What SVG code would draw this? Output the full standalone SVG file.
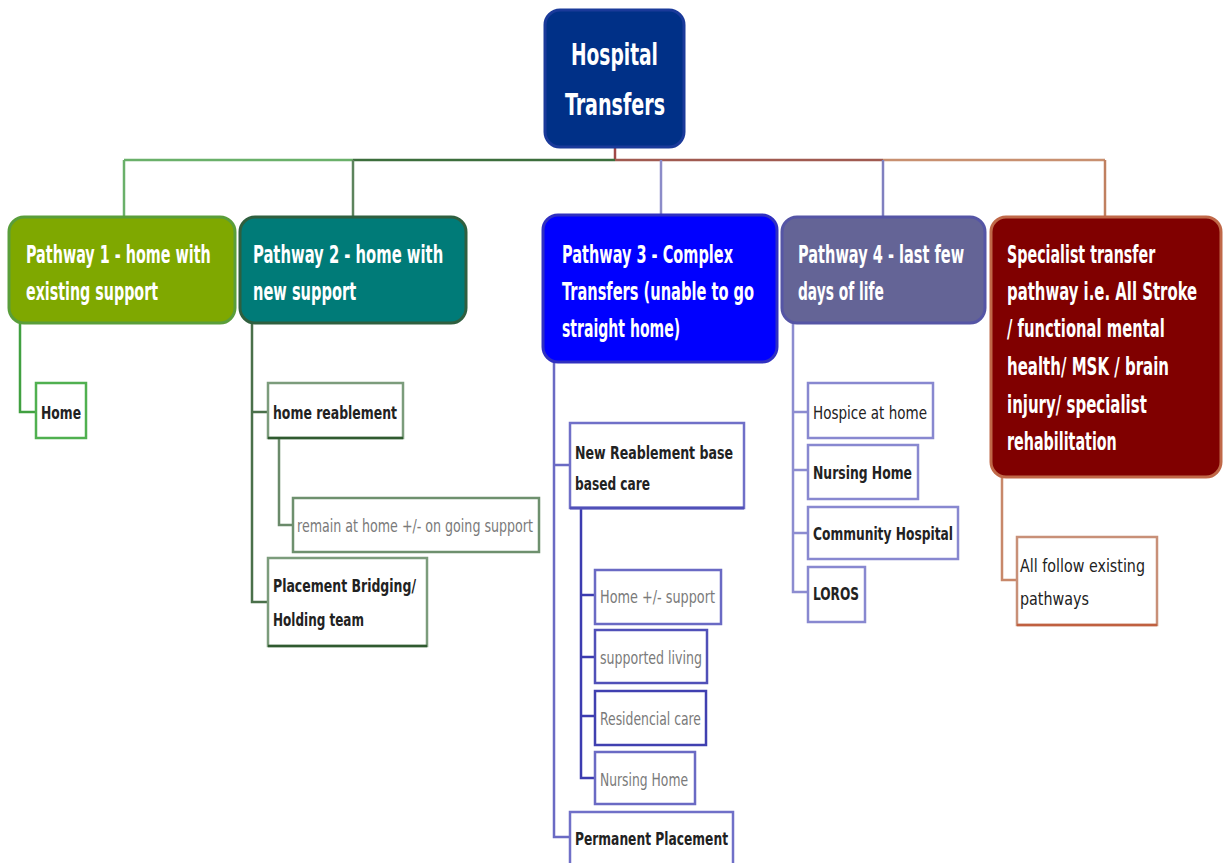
<svg xmlns="http://www.w3.org/2000/svg" width="1226" height="863" viewBox="0 0 1226 863">
<style>
.main{font-family:"DejaVu Sans Condensed","DejaVu Sans","Liberation Sans",sans-serif;font-stretch:condensed;font-weight:bold;font-size:25px;fill:#ffffff}
.root{font-family:"DejaVu Sans Condensed","DejaVu Sans","Liberation Sans",sans-serif;font-stretch:condensed;font-weight:bold;font-size:31px;fill:#ffffff}
.sub{font-family:"DejaVu Sans Condensed","DejaVu Sans","Liberation Sans",sans-serif;font-stretch:condensed;font-size:18px;fill:#222222}
.gray{fill:#7a7a7a}
.b{font-weight:bold}
.conn{fill:none;stroke-width:2.5}
.sbox{fill:#ffffff;stroke-width:2.5}
</style>
<rect width="1226" height="863" fill="#ffffff"/>

<g id="connectors">
  <path class="conn" d="M615,146 V160" stroke="#a04848"/>
  <path class="conn" d="M124,160 H353" stroke="#6ab06a"/>
  <path class="conn" d="M353,160 H615" stroke="#3c6e3c"/>
  <path class="conn" d="M615,160 H883" stroke="#a05a50"/>
  <path class="conn" d="M883,160 H1105" stroke="#c89070"/>
  <path class="conn" d="M124,160 V217" stroke="#6ab06a"/>
  <path class="conn" d="M353,160 V217" stroke="#5d845d"/>
  <path class="conn" d="M661,160 V215" stroke="#8c8cc8"/>
  <path class="conn" d="M883,160 V217" stroke="#8080c0"/>
  <path class="conn" d="M1105,160 V217" stroke="#c08060"/>
  <path class="conn" d="M20,323 V412 H36" stroke="#40a040"/>
  <path class="conn" d="M252,323 V602 H268 M252,412 H268" stroke="#4a704a"/>
  <path class="conn" d="M279,438 V525 H293" stroke="#6a8a6a"/>
  <path class="conn" d="M554,362 V837 H570 M554,465 H570" stroke="#6a6ac4"/>
  <path class="conn" d="M581,508 V778 H595 M581,595 H595 M581,657 H595 M581,716 H595" stroke="#3c3cb0"/>
  <path class="conn" d="M793,323 V592 H808 M793,412 H808 M793,470 H808 M793,533 H808" stroke="#8c8cd0" stroke-width="3.5"/>
  <path class="conn" d="M1002,477 V580 H1017" stroke="#c8886a"/>
</g>

<g id="root">
  <rect x="545" y="10" width="139" height="137" rx="15" fill="#003087" stroke="#1a3a9a" stroke-width="3"/>
  <text class="root" x="571" y="65" textLength="87" lengthAdjust="spacingAndGlyphs">Hospital</text>
  <text class="root" x="565" y="115" textLength="100" lengthAdjust="spacingAndGlyphs">Transfers</text>
</g>

<g id="pathway1">
  <rect x="9" y="217" width="226" height="106" rx="15" fill="#7fa800" stroke="#5a9e3a" stroke-width="3"/>
  <text class="main" transform="translate(26,263) scale(0.6,1)" textLength="308" lengthAdjust="spacingAndGlyphs">Pathway 1 - home with</text>
  <text class="main" transform="translate(26,300) scale(0.6,1)" textLength="220" lengthAdjust="spacingAndGlyphs">existing support</text>
</g>

<g id="pathway2">
  <rect x="240" y="217" width="226" height="106" rx="15" fill="#007b78" stroke="#2f5f3f" stroke-width="3"/>
  <text class="main" transform="translate(253,263) scale(0.6,1)" textLength="317" lengthAdjust="spacingAndGlyphs">Pathway 2 - home with</text>
  <text class="main" transform="translate(253,300) scale(0.6,1)" textLength="172" lengthAdjust="spacingAndGlyphs">new support</text>
</g>

<g id="pathway3">
  <rect x="543" y="215" width="234" height="147" rx="15" fill="#0000ff" stroke="#3030c0" stroke-width="3"/>
  <text class="main" transform="translate(562,263) scale(0.6,1)" textLength="285" lengthAdjust="spacingAndGlyphs">Pathway 3 - Complex</text>
  <text class="main" transform="translate(562,300) scale(0.6,1)" textLength="320" lengthAdjust="spacingAndGlyphs">Transfers (unable to go</text>
  <text class="main" transform="translate(562,337) scale(0.6,1)" textLength="197" lengthAdjust="spacingAndGlyphs">straight home)</text>
</g>

<g id="pathway4">
  <rect x="782" y="217" width="203" height="106" rx="15" fill="#646496" stroke="#5555a5" stroke-width="3"/>
  <text class="main" transform="translate(798,263) scale(0.6,1)" textLength="277" lengthAdjust="spacingAndGlyphs">Pathway 4 - last few</text>
  <text class="main" transform="translate(798,300) scale(0.6,1)" textLength="143" lengthAdjust="spacingAndGlyphs">days of life</text>
</g>

<g id="specialist">
  <rect x="991" y="217" width="230" height="260" rx="15" fill="#800000" stroke="#c06848" stroke-width="3"/>
  <text class="main" transform="translate(1007,263) scale(0.6,1)" textLength="247" lengthAdjust="spacingAndGlyphs">Specialist transfer</text>
  <text class="main" transform="translate(1007,300) scale(0.6,1)" textLength="317" lengthAdjust="spacingAndGlyphs">pathway i.e.  All Stroke</text>
  <text class="main" transform="translate(1007,337) scale(0.6,1)" textLength="263" lengthAdjust="spacingAndGlyphs">/ functional mental</text>
  <text class="main" transform="translate(1007,375) scale(0.6,1)" textLength="270" lengthAdjust="spacingAndGlyphs">health/ MSK / brain</text>
  <text class="main" transform="translate(1007,413) scale(0.6,1)" textLength="233" lengthAdjust="spacingAndGlyphs">injury/ specialist</text>
  <text class="main" transform="translate(1007,450) scale(0.6,1)" textLength="183" lengthAdjust="spacingAndGlyphs">rehabilitation</text>
</g>

<g id="home1">
  <rect class="sbox" x="36" y="383" width="50" height="55" stroke="#50b050"/>
  <text class="sub b" x="41" y="419" textLength="40" lengthAdjust="spacingAndGlyphs">Home</text>
</g>

<g id="home-reablement">
  <rect class="sbox" x="268" y="383" width="135" height="55" stroke="#7c9c7c"/>
  <path d="M268,438 H403" stroke="#2f5a2f" stroke-width="2.5"/>
  <text class="sub b" x="273" y="419" textLength="124" lengthAdjust="spacingAndGlyphs">home  reablement</text>
</g>

<g id="remain-at-home">
  <rect class="sbox" x="293" y="498" width="246" height="54" stroke="#6e906e"/>
  <text class="sub gray" x="297" y="532" textLength="236" lengthAdjust="spacingAndGlyphs">remain at home +/- on going support</text>
</g>

<g id="placement-bridging">
  <rect class="sbox" x="268" y="558" width="159" height="88" stroke="#7c9c7c"/>
  <path d="M268,646 H427" stroke="#2f5a2f" stroke-width="2.5"/>
  <text class="sub b" x="273" y="592" textLength="143" lengthAdjust="spacingAndGlyphs">Placement Bridging/</text>
  <text class="sub b" x="273" y="626" textLength="91" lengthAdjust="spacingAndGlyphs">Holding team</text>
</g>

<g id="new-reablement">
  <rect class="sbox" x="570" y="423" width="174" height="85" stroke="#7070c8"/>
  <path d="M570,508 H744" stroke="#5050b8" stroke-width="3"/>
  <text class="sub b" x="575" y="459" textLength="158" lengthAdjust="spacingAndGlyphs">New  Reablement base</text>
  <text class="sub b" x="575" y="490" textLength="75" lengthAdjust="spacingAndGlyphs">based care</text>
</g>

<g id="home-support">
  <rect class="sbox" x="595" y="570" width="126" height="54" stroke="#6a6ac4"/>
  <text class="sub gray" x="600" y="603" textLength="115" lengthAdjust="spacingAndGlyphs">Home +/- support</text>
</g>

<g id="supported-living">
  <rect class="sbox" x="595" y="630" width="112" height="53" stroke="#5050b8"/>
  <text class="sub gray" x="600" y="664" textLength="102" lengthAdjust="spacingAndGlyphs">supported living</text>
</g>

<g id="residencial-care">
  <rect class="sbox" x="595" y="691" width="111" height="54" stroke="#4040b0"/>
  <text class="sub gray" x="600" y="725" textLength="101" lengthAdjust="spacingAndGlyphs">Residencial care</text>
</g>

<g id="nursing-home-3">
  <rect class="sbox" x="595" y="752" width="100" height="52" stroke="#6a6ac4"/>
  <text class="sub gray" x="600" y="786" textLength="88" lengthAdjust="spacingAndGlyphs">Nursing Home</text>
</g>

<g id="permanent-placement">
  <rect class="sbox" x="570" y="812" width="163" height="60" stroke="#7070c8"/>
  <text class="sub b" x="575" y="845" textLength="153" lengthAdjust="spacingAndGlyphs">Permanent Placement</text>
</g>

<g id="hospice">
  <rect class="sbox" x="808" y="383" width="125" height="55" stroke="#8888d0" stroke-width="3"/>
  <text class="sub" x="813" y="419" textLength="114" lengthAdjust="spacingAndGlyphs">Hospice at home</text>
</g>

<g id="nursing-home-4">
  <rect class="sbox" x="808" y="445" width="110" height="54" stroke="#8888d0" stroke-width="3"/>
  <text class="sub b" x="813" y="479" textLength="99" lengthAdjust="spacingAndGlyphs">Nursing Home</text>
</g>

<g id="community-hospital">
  <rect class="sbox" x="808" y="507" width="150" height="52" stroke="#8888d0" stroke-width="3"/>
  <text class="sub b" x="813" y="540" textLength="140" lengthAdjust="spacingAndGlyphs">Community Hospital</text>
</g>

<g id="loros">
  <rect class="sbox" x="808" y="567" width="57" height="55" stroke="#8888d0" stroke-width="3"/>
  <text class="sub b" x="813" y="600" textLength="46" lengthAdjust="spacingAndGlyphs">LOROS</text>
</g>

<g id="all-follow">
  <rect class="sbox" x="1017" y="537" width="140" height="88" stroke="#c89078"/>
  <path d="M1017,625 H1157" stroke="#c06040" stroke-width="2.5"/>
  <text class="sub" x="1020" y="572" fill="#333333" textLength="125" lengthAdjust="spacingAndGlyphs">All follow existing</text>
  <text class="sub" x="1020" y="605" fill="#333333" textLength="69" lengthAdjust="spacingAndGlyphs">pathways</text>
</g>
</svg>
